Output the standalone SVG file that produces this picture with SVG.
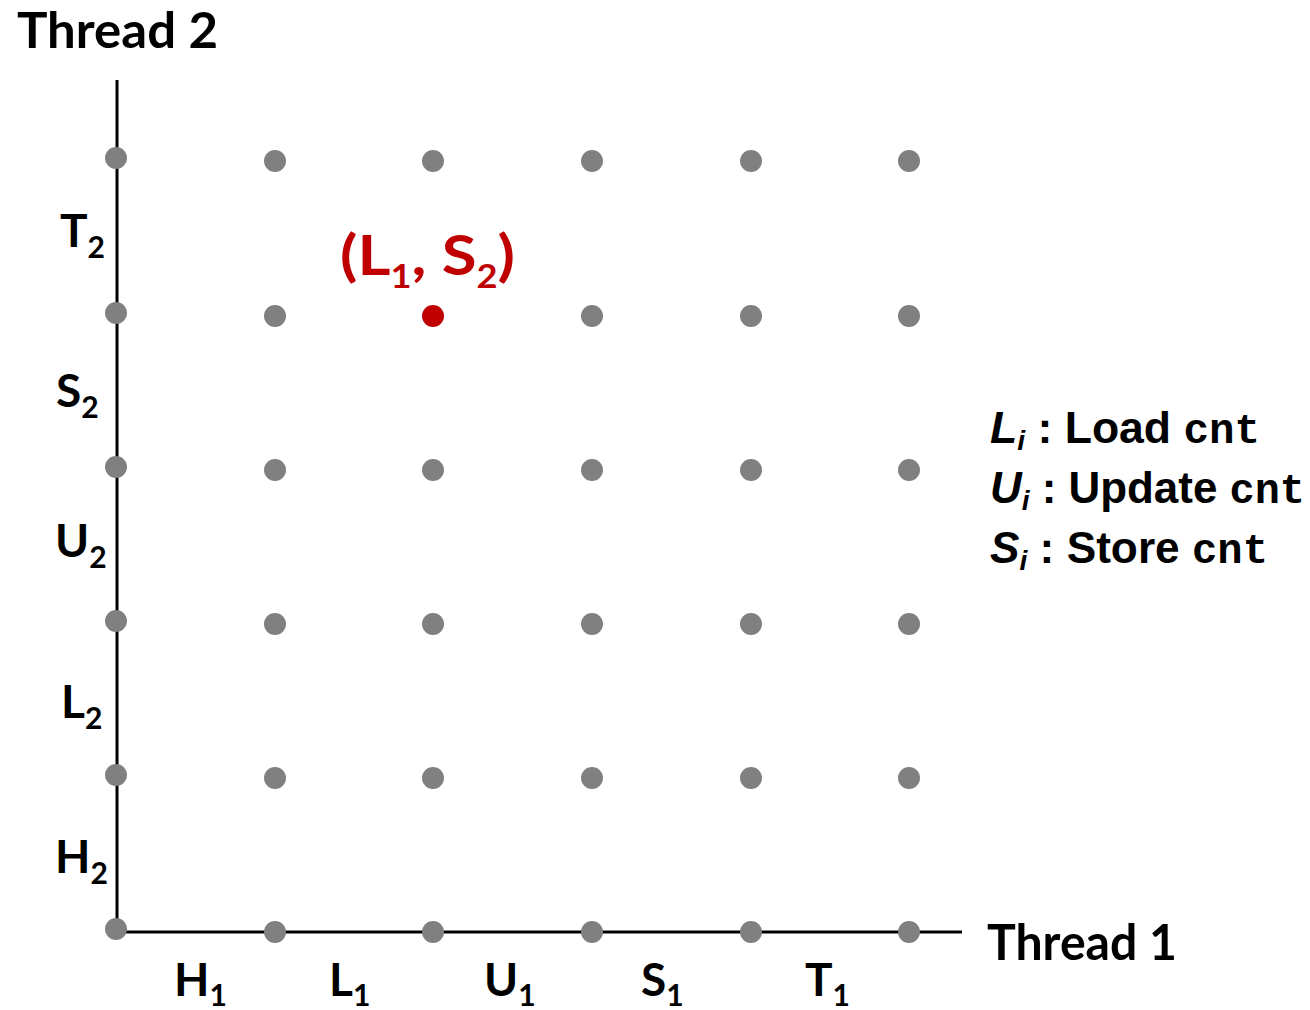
<svg xmlns="http://www.w3.org/2000/svg" width="1310" height="1010" viewBox="0 0 1310 1010">
<style>
.t{font-family:Lato,"Open Sans",sans-serif;font-weight:bold;fill:#000}
.big{font-size:50px}
.lab{font-size:46px}
.sub{font-size:30px}
.red{fill:#c00000}
.dot{fill:#808080}
.axis{stroke:#000;stroke-width:3;fill:none}
.leg{font-family:"Liberation Sans",sans-serif;font-weight:bold;font-size:44px;fill:#000}
.it{font-style:italic}
.si{font-style:italic;font-size:28px}
.mono{font-family:"Liberation Mono",monospace;font-size:42px}
</style>
<rect width="1310" height="1010" fill="#fff"/>
<g id="connectors">
<line class="axis" x1="117" y1="80" x2="117" y2="932"/>
<line class="axis" x1="117" y1="932" x2="962" y2="932"/>
</g>
<g id="grid">
<g id="col1"><circle class="dot" cx="116" cy="158" r="11"/><circle class="dot" cx="116" cy="313" r="11"/><circle class="dot" cx="116" cy="467" r="11"/><circle class="dot" cx="116" cy="621" r="11"/><circle class="dot" cx="116" cy="775" r="11"/><circle class="dot" cx="116" cy="929" r="11"/></g>
<g id="col2"><circle class="dot" cx="275" cy="161" r="11"/><circle class="dot" cx="275" cy="316" r="11"/><circle class="dot" cx="275" cy="470" r="11"/><circle class="dot" cx="275" cy="624" r="11"/><circle class="dot" cx="275" cy="778" r="11"/><circle class="dot" cx="275" cy="932" r="11"/></g>
<g id="col3"><circle class="dot" cx="433" cy="161" r="11"/><circle class="dot" cx="433" cy="470" r="11"/><circle class="dot" cx="433" cy="624" r="11"/><circle class="dot" cx="433" cy="778" r="11"/><circle class="dot" cx="433" cy="932" r="11"/></g>
<g id="col4"><circle class="dot" cx="592" cy="161" r="11"/><circle class="dot" cx="592" cy="316" r="11"/><circle class="dot" cx="592" cy="470" r="11"/><circle class="dot" cx="592" cy="624" r="11"/><circle class="dot" cx="592" cy="778" r="11"/><circle class="dot" cx="592" cy="932" r="11"/></g>
<g id="col5"><circle class="dot" cx="751" cy="161" r="11"/><circle class="dot" cx="751" cy="316" r="11"/><circle class="dot" cx="751" cy="470" r="11"/><circle class="dot" cx="751" cy="624" r="11"/><circle class="dot" cx="751" cy="778" r="11"/><circle class="dot" cx="751" cy="932" r="11"/></g>
<g id="col6"><circle class="dot" cx="909" cy="161" r="11"/><circle class="dot" cx="909" cy="316" r="11"/><circle class="dot" cx="909" cy="470" r="11"/><circle class="dot" cx="909" cy="624" r="11"/><circle class="dot" cx="909" cy="778" r="11"/><circle class="dot" cx="909" cy="932" r="11"/></g>
</g>
<g id="state">
<circle cx="433" cy="316" r="11" fill="#c00000"/>
<text class="t red" font-size="56" x="340" y="275" textLength="175" lengthAdjust="spacingAndGlyphs">(L<tspan font-size="32" dy="13">1</tspan><tspan dy="-13">, S</tspan><tspan font-size="32" dy="13">2</tspan><tspan dy="-13">)</tspan></text>
</g>
<g id="titles">
<text class="t big" x="17" y="48" textLength="201" lengthAdjust="spacingAndGlyphs">Thread 2</text>
<text class="t big" x="987" y="960" textLength="190" lengthAdjust="spacingAndGlyphs">Thread 1</text>
</g>
<g id="ylabels">
<text class="t lab" x="60" y="247">T<tspan class="sub" dy="11">2</tspan></text>
<text class="t lab" x="56" y="407">S<tspan class="sub" dy="11">2</tspan></text>
<text class="t lab" x="55" y="557">U<tspan class="sub" dy="11">2</tspan></text>
<text class="t lab" x="61" y="718">L<tspan class="sub" dy="11">2</tspan></text>
<text class="t lab" x="55" y="873">H<tspan class="sub" dy="11">2</tspan></text>
</g>
<g id="xlabels">
<text class="t lab" x="174" y="996">H<tspan class="sub" dy="10">1</tspan></text>
<text class="t lab" x="329" y="996">L<tspan class="sub" dy="10">1</tspan></text>
<text class="t lab" x="484" y="996">U<tspan class="sub" dy="10">1</tspan></text>
<text class="t lab" x="641" y="996">S<tspan class="sub" dy="10">1</tspan></text>
<text class="t lab" x="805" y="996">T<tspan class="sub" dy="10">1</tspan></text>
</g>
<g id="legend">
<text class="leg" x="990" y="443" textLength="270" lengthAdjust="spacingAndGlyphs"><tspan class="it">L</tspan><tspan class="si" dy="7">i</tspan><tspan dy="-7"> : Load </tspan><tspan class="mono">cnt</tspan></text>
<text class="leg" x="990" y="503" textLength="315" lengthAdjust="spacingAndGlyphs"><tspan class="it">U</tspan><tspan class="si" dy="7">i</tspan><tspan dy="-7"> : Update </tspan><tspan class="mono">cnt</tspan></text>
<text class="leg" x="990" y="563" textLength="278" lengthAdjust="spacingAndGlyphs"><tspan class="it">S</tspan><tspan class="si" dy="7">i</tspan><tspan dy="-7"> : Store </tspan><tspan class="mono">cnt</tspan></text>
</g>
</svg>
